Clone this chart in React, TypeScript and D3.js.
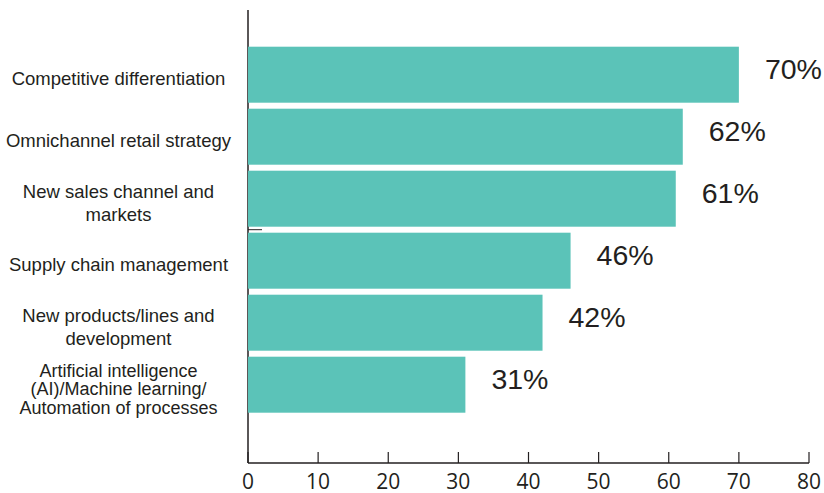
import React from "react";
import * as d3 from "d3";

const categories: string[][] = [
  ["Competitive differentiation"],
  ["Omnichannel retail strategy"],
  ["New sales channel and", "markets"],
  ["Supply chain management"],
  ["New products/lines and", "development"],
  ["Artificial intelligence", "(AI)/Machine learning/", "Automation of processes"],
];
const values: number[] = [70, 62, 61, 46, 42, 31];
const valueLabels: string[] = ["70%", "62%", "61%", "46%", "42%", "31%"];
const xTicks: number[] = [0, 10, 20, 30, 40, 50, 60, 70, 80];

const W = 824;
const H = 493;
const BAR = "#5BC3B8";
const INK = "#231f20";

export default function App() {
  const x = d3.scaleLinear().domain([0, 80]).range([248, 809]);
  const keys = categories.map((_, i) => String(i));
  const y = d3
    .scaleBand<string>()
    .domain(keys)
    .range([43.7, 415.7])
    .paddingInner(6 / 62)
    .paddingOuter(3 / 62);
  const axisY = 463;
  const axisTop = 10;

  return (
    <svg
      width={W}
      height={H}
      style={{ position: "absolute", left: 0, top: 0, background: "#fff" }}
    >
      {/* vertical axis */}
      <line x1={x(0)} x2={x(0)} y1={axisTop} y2={axisY} stroke={INK} strokeWidth={1.5} />
      {/* stray tick between category 3 and 4 */}
      <line
        x1={x(0)}
        x2={x(0) + 14}
        y1={(y("2")! + y.bandwidth() + y("3")!) / 2}
        y2={(y("2")! + y.bandwidth() + y("3")!) / 2}
        stroke={INK}
        strokeWidth={1}
      />
      {/* bottom axis */}
      <line x1={x(0)} x2={x(80)} y1={axisY} y2={axisY} stroke={INK} strokeWidth={1.5} />
      {xTicks.map((t) => (
        <g key={t}>
          <line x1={x(t)} x2={x(t)} y1={axisY} y2={axisY - 11} stroke={INK} strokeWidth={1.2} />
          <text
            x={x(t)}
            y={488.5}
            textAnchor="middle"
            fontFamily="'Open Sans', 'Noto Sans', sans-serif"
            fontSize={21}
            fill={INK}
          >
            {t}
          </text>
        </g>
      ))}
      {/* bars */}
      {values.map((v, i) => {
        const yy = y(String(i))!;
        const bw = y.bandwidth();
        return (
          <g key={i}>
            <rect x={x(0)} y={yy} width={x(v) - x(0)} height={bw} fill={BAR} />
            <text
              x={x(v) + 26}
              y={yy + bw / 2 + 4.5}
              fontFamily="'Liberation Sans', Arial, sans-serif"
              fontSize={28.5}
              fill={INK}
            >
              {valueLabels[i]}
            </text>
          </g>
        );
      })}
      {/* category labels */}
      {categories.map((lines, i) => {
        const cy = y(String(i))! + y.bandwidth() / 2 + 4;
        const lh = lines.length === 3 ? 18.5 : 23;
        const first = cy - ((lines.length - 1) * lh) / 2 + 6.5;
        return (
          <text
            key={i}
            textAnchor="middle"
            fontFamily="'Liberation Sans', Arial, sans-serif"
            fontSize={lines.length === 3 ? 18 : 18.5}
            fill={INK}
          >
            {lines.map((l, j) => (
              <tspan key={j} x={118.5} y={first + j * lh}>
                {l}
              </tspan>
            ))}
          </text>
        );
      })}
    </svg>
  );
}
